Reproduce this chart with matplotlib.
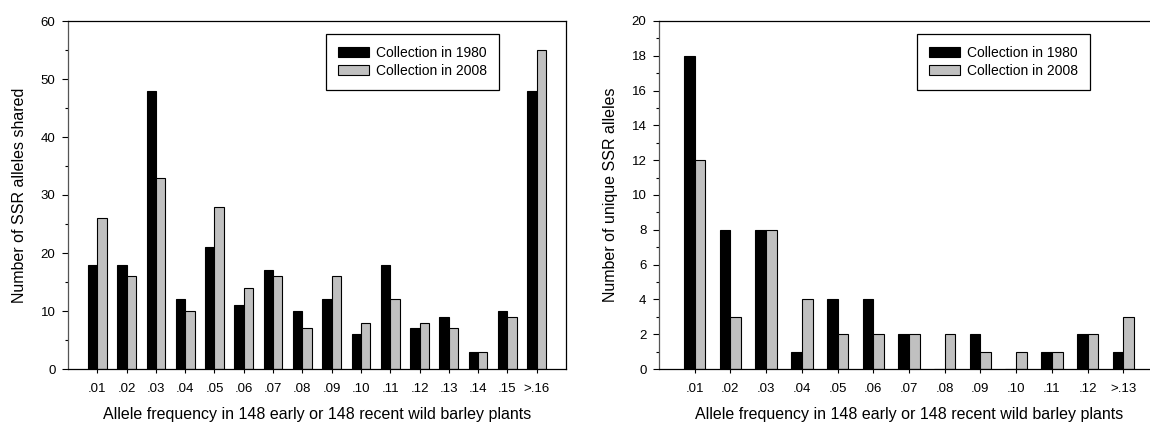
import numpy as np
import matplotlib
matplotlib.use("Agg")
import matplotlib.pyplot as plt

plt.rcParams['font.family'] = ['Liberation Sans', 'DejaVu Sans']

# shared alleles (left panel)
cats_shared = ['.01', '.02', '.03', '.04', '.05', '.06', '.07', '.08',
               '.09', '.10', '.11', '.12', '.13', '.14', '.15', '>.16']
shared_1980 = [18, 18, 48, 12, 21, 11, 17, 10, 12, 6, 18, 7, 9, 3, 10, 48]
shared_2008 = [26, 16, 33, 10, 28, 14, 16, 7, 16, 8, 12, 8, 7, 3, 9, 55]

# unique alleles (right panel)
cats_unique = ['.01', '.02', '.03', '.04', '.05', '.06', '.07', '.08',
               '.09', '.10', '.11', '.12', '>.13']
unique_1980 = [18, 8, 8, 1, 4, 4, 2, 0, 2, 0, 1, 2, 1]
unique_2008 = [12, 3, 8, 4, 2, 2, 2, 2, 1, 1, 1, 2, 3]

W, H = 1150, 426
fig = plt.figure(figsize=(W / 100, H / 100), dpi=100)

gray = '#c0c0c0'
xlab = 'Allele frequency in 148 early or 148 recent wild barley plants'


def panel(rect, cats, v80, v08, ymax, major, minor, ylabel, bw, legend_right):
    ax = fig.add_axes(rect)
    x = np.arange(1, len(cats) + 1)
    ax.bar(x - bw / 2, v80, bw, color='black', edgecolor='black', linewidth=0.8,
           label='Collection in 1980')
    ax.bar(x + bw / 2, v08, bw, color=gray, edgecolor='black', linewidth=0.8,
           label='Collection in 2008')
    ax.set_xlim(0, len(cats) + 1)
    ax.set_ylim(0, ymax)
    ax.set_xticks(x)
    ax.set_xticklabels(cats, fontsize=9.5)
    ax.set_yticks(np.arange(0, ymax + 0.1, major))
    ax.set_yticks(np.arange(0, ymax + 0.1, minor), minor=True)
    ax.tick_params(axis='y', labelsize=9.5, length=4, width=0.8, pad=5)
    ax.tick_params(axis='y', which='minor', length=2.5, width=0.8)
    ax.tick_params(axis='x', length=3, width=0.8, pad=7)
    ax.set_ylabel(ylabel, fontsize=11.5, labelpad=10)
    ax.set_xlabel(xlab, fontsize=11.5, labelpad=9)
    for s in ax.spines.values():
        s.set_linewidth(0.9)
    ax.spines['left'].set_color('#555555')
    ax.legend(loc='upper right', bbox_to_anchor=(legend_right / W, 1 - 34 / H),
              bbox_transform=fig.transFigure, fontsize=10, frameon=True,
              fancybox=False, edgecolor='black', framealpha=1, borderaxespad=0,
              handlelength=2.2, handleheight=0.8, handletextpad=0.55,
              labelspacing=0.3, borderpad=0.85)
    ax.get_legend().get_frame().set_linewidth(0.9)
    return ax


panel([68 / W, 1 - 369 / H, 498 / W, 348 / H], cats_shared, shared_1980,
      shared_2008, 60, 10, 5, 'Number of SSR alleles shared', 0.32, 499)
panel([659 / W, 1 - 369 / H, 500 / W, 348 / H], cats_unique, unique_1980,
      unique_2008, 20, 2, 1, 'Number of unique SSR alleles', 0.3, 1090)

fig.savefig('out.png', dpi=100)
